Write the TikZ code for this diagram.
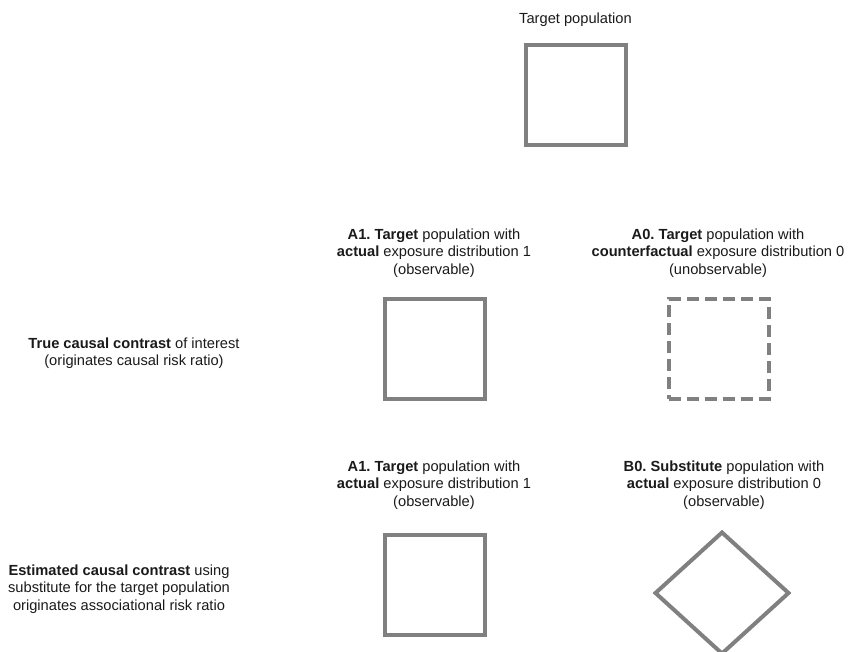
\documentclass[tikz,border=0pt]{standalone}
\usepackage{fontspec}
\setmainfont{Liberation Sans}
\frenchspacing
\usetikzlibrary{shapes.geometric}
\definecolor{edge}{HTML}{808080}
\definecolor{ink}{HTML}{1A1A1A}

\begin{document}
\begin{tikzpicture}[x=0.75pt, y=-0.75pt,
    lbl/.style={font=\fontsize{11}{13}\selectfont, ink, align=center},
    popbox/.style={draw=edge, line width=3pt, minimum size=75pt, inner sep=0pt},
    subbox/.style={draw=edge, line width=3pt, diamond, minimum width=101pt, minimum height=92pt, inner sep=0pt}]
      \useasboundingbox (0, 0) rectangle (849, 652);
      % top row
      \node[lbl] (ttl) at (575.5, 20) {Target population};
      \node[popbox] (pop) at (575.5, 95.5) {};
      % true causal contrast
      \node[lbl] (truelbl) at (134, 353) {\textbf{True causal contrast} of interest\\(originates causal risk ratio)};
      \node[lbl] (aonelbl) at (434, 253) {\textbf{A1. Target} population with\\\textbf{actual} exposure distribution 1\\(observable)};
      \node[popbox] (aone) at (434.5, 349) {};
      \node[lbl] (azerolbl) at (718, 253) {\textbf{A0. Target} population with\\\textbf{counterfactual} exposure distribution 0\\(unobservable)};
      \node[popbox, dashed, dash pattern=on 9pt off 4.5pt] (azero) at (718.5, 349) {};
      % estimated causal contrast
      \node[lbl] (estlbl) at (119, 589) {\textbf{Estimated causal contrast} using\\substitute for the target population\\originates associational risk ratio};
      \node[lbl] (bonelbl) at (434, 485) {\textbf{A1. Target} population with\\\textbf{actual} exposure distribution 1\\(observable)};
      \node[popbox] (bone) at (434.5, 584.5) {};
      \node[lbl] (bzerolbl) at (724, 485) {\textbf{B0. Substitute} population with\\\textbf{actual} exposure distribution 0\\(observable)};
      \node[subbox] (bzero) at (722, 593) {};
    \end{tikzpicture}
\end{document}
